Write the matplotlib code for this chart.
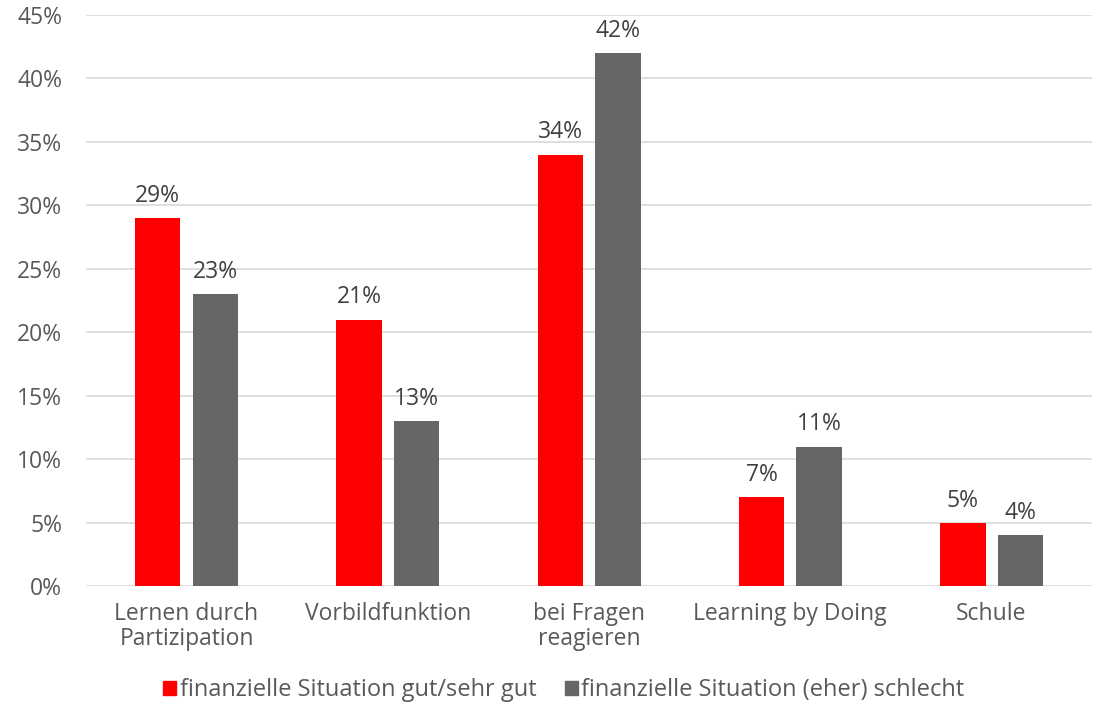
import matplotlib.pyplot as plt
import matplotlib.patches as patches
import numpy as np

# ── data ────────────────────────────────────────────────────────────────
categories = ["Lernen durch\nPartizipation", "Vorbildfunktion", "bei Fragen\nreagieren",
              "Learning by Doing", "Schule"]
gut = [29, 21, 34, 7, 5]
schlecht = [23, 13, 42, 11, 4]
series_labels = ["finanzielle Situation gut/sehr gut", "finanzielle Situation (eher) schlecht"]
yticks = [0, 5, 10, 15, 20, 25, 30, 35, 40, 45]

RED = "#ff0000"
GREY = "#666666"
TEXT = "#595959"
GRID = "#d9d9d9"
FS = 16.5

plt.rcParams['font.family'] = ['Open Sans', 'DejaVu Sans']

fig = plt.figure(figsize=(11.01, 7.08), dpi=100)
ax = fig.add_axes([0.078, 0.172, 0.914, 0.807])

x = np.arange(len(categories))
w = 0.226
off = 0.143
b1 = ax.bar(x - off, gut, w, color=RED, zorder=3)
b2 = ax.bar(x + off, schlecht, w, color=GREY, zorder=3)

for bars, vals in ((b1, gut), (b2, schlecht)):
    for rect, v in zip(bars, vals):
        ax.text(rect.get_x() + rect.get_width() / 2, v + 0.8, f"{v}%",
                ha='center', va='bottom', fontsize=FS, color="#404040")

ax.set_xlim(-0.5, len(categories) - 0.5)
ax.set_ylim(0, 45)
ax.set_yticks(yticks)
ax.set_yticklabels([f"{t}%" for t in yticks])
ax.set_xticks(x)
ax.set_xticklabels(categories, linespacing=1.1)
ax.tick_params(axis='both', length=0, labelsize=FS, labelcolor=TEXT)
ax.tick_params(axis='y', pad=17)
ax.tick_params(axis='x', pad=11)
ax.grid(axis='y', color=GRID, linewidth=1.2, zorder=0)
ax.set_axisbelow(True)
for s in ax.spines.values():
    s.set_visible(False)

handles = [patches.Patch(color=RED), patches.Patch(color=GREY)]
fig.legend(handles, series_labels, loc='center', bbox_to_anchor=(0.512, 0.025),
           ncol=2, frameon=False, fontsize=17, labelcolor=TEXT,
           handlelength=0.55, handleheight=0.55, handletextpad=0.15, columnspacing=1.2)

fig.savefig("out.png", dpi=100, facecolor='white')
